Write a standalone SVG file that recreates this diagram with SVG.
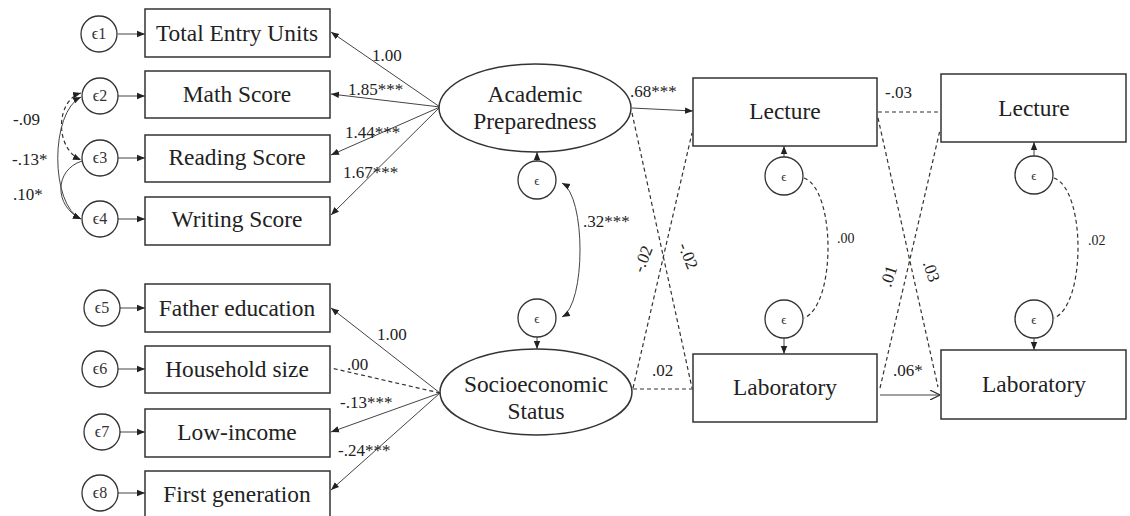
<svg xmlns="http://www.w3.org/2000/svg" width="1130" height="516" viewBox="0 0 1130 516">
<style>
.bg{fill:#fff}
.box{fill:#fff;stroke:#333;stroke-width:1.5}
.eps{fill:#fff;stroke:#333;stroke-width:1.3}
.ell{fill:#fff;stroke:#333;stroke-width:1.5}
.ln{fill:none;stroke:#444;stroke-width:1}
.dl{fill:none;stroke:#333;stroke-width:1.2;stroke-dasharray:4 3}
.t{font-family:"Liberation Serif","DejaVu Serif",serif;font-size:23.4px;fill:#222;text-anchor:middle}
.lb{font-family:"Liberation Serif","DejaVu Serif",serif;font-size:17px;fill:#222}
.sm{font-family:"Liberation Serif","DejaVu Serif",serif;font-size:14px;fill:#222}
.e{font-family:"Liberation Serif","DejaVu Serif",serif;font-size:16px;fill:#333;text-anchor:middle}
.e0{font-family:"Liberation Serif","DejaVu Serif",serif;font-size:13px;fill:#333;text-anchor:middle}
</style>
<defs>
<marker id="ah" viewBox="0 0 10 10" refX="10" refY="5" markerWidth="8" markerHeight="8" orient="auto-start-reverse" markerUnits="userSpaceOnUse"><path d="M0,1 L10,5 L0,9 z" fill="#222"/></marker>
<marker id="oa" viewBox="0 0 10 10" refX="10" refY="5" markerWidth="10" markerHeight="10" orient="auto" markerUnits="userSpaceOnUse"><path d="M0,0 L10,5 L0,10" fill="none" stroke="#333" stroke-width="1.2"/></marker>
</defs>
<rect class="bg" x="0" y="0" width="1130" height="516"/>

<g id="connectors">
<line class="ln" x1="118" y1="34" x2="145" y2="34" marker-end="url(#ah)"/>
<line class="ln" x1="118" y1="96" x2="145" y2="96" marker-end="url(#ah)"/>
<line class="ln" x1="118" y1="158" x2="145" y2="158" marker-end="url(#ah)"/>
<line class="ln" x1="118" y1="219" x2="145" y2="219" marker-end="url(#ah)"/>
<line class="ln" x1="120" y1="308" x2="145" y2="308" marker-end="url(#ah)"/>
<line class="ln" x1="118" y1="369" x2="145" y2="369" marker-end="url(#ah)"/>
<line class="ln" x1="120" y1="432" x2="145" y2="432" marker-end="url(#ah)"/>
<line class="ln" x1="118" y1="493" x2="145" y2="493" marker-end="url(#ah)"/>
<path class="dl" d="M81 93 C56 100 54 148 81 160" marker-start="url(#ah)" marker-end="url(#ah)"/>
<path class="ln" d="M81 97 C50 112 50 205 81 219" marker-start="url(#ah)" marker-end="url(#ah)"/>
<path class="ln" d="M82 161 C54 170 54 206 81 219" marker-end="url(#ah)"/>
<line class="ln" x1="440" y1="107" x2="331" y2="32" marker-end="url(#ah)"/>
<line class="ln" x1="440" y1="107" x2="331" y2="94" marker-end="url(#ah)"/>
<line class="ln" x1="440" y1="107" x2="331" y2="155" marker-end="url(#ah)"/>
<line class="ln" x1="440" y1="107" x2="331" y2="215" marker-end="url(#ah)"/>
<line class="ln" x1="440" y1="393" x2="331" y2="308" marker-end="url(#ah)"/>
<line class="dl" x1="440" y1="393" x2="331" y2="368"/>
<line class="ln" x1="440" y1="393" x2="331" y2="432" marker-end="url(#ah)"/>
<line class="ln" x1="440" y1="393" x2="331" y2="490" marker-end="url(#ah)"/>
<line class="ln" x1="537" y1="161" x2="537" y2="152" marker-end="url(#ah)"/>
<line class="ln" x1="537" y1="337" x2="537" y2="349" marker-end="url(#ah)"/>
<path class="ln" d="M562 183 C586 196 586 304 562 317" marker-start="url(#ah)" marker-end="url(#ah)"/>
<line class="ln" x1="632" y1="108" x2="693" y2="111" marker-end="url(#ah)"/>
<line class="dl" x1="632" y1="113" x2="692" y2="388"/>
<line class="dl" x1="633" y1="388" x2="692" y2="133"/>
<line class="dl" x1="633" y1="389" x2="693" y2="389"/>
<line class="ln" x1="784" y1="157" x2="784" y2="146" marker-end="url(#ah)"/>
<line class="ln" x1="784" y1="338" x2="784" y2="354" marker-end="url(#ah)"/>
<line class="ln" x1="1034" y1="156" x2="1034" y2="142" marker-end="url(#ah)"/>
<line class="ln" x1="1034" y1="338" x2="1034" y2="350" marker-end="url(#ah)"/>
<path class="dl" d="M804 178 C836 190 836 305 804 318"/>
<path class="dl" d="M1054 178 C1086 190 1086 305 1054 318"/>
<line class="dl" x1="878" y1="112" x2="941" y2="112"/>
<line class="dl" x1="878" y1="118" x2="938" y2="387"/>
<line class="dl" x1="880" y1="388" x2="940" y2="130"/>
<line class="ln" x1="880" y1="395" x2="940" y2="395" marker-end="url(#oa)" stroke-width="1.3"/>
</g>

<g id="labels">
<text class="lb" x="13" y="125">-.09</text>
<text class="lb" x="12" y="165">-.13*</text>
<text class="lb" x="13" y="200">.10*</text>
<text class="lb" x="372" y="61">1.00</text>
<text class="lb" x="348" y="95">1.85***</text>
<text class="lb" x="345" y="138">1.44***</text>
<text class="lb" x="343" y="178">1.67***</text>
<text class="lb" x="377" y="340">1.00</text>
<text class="lb" x="347" y="370">.00</text>
<text class="lb" x="340" y="408">-.13***</text>
<text class="lb" x="338" y="456">-.24***</text>
<text class="lb" x="583" y="227">.32***</text>
<text class="lb" x="630" y="97">.68***</text>
<text class="lb" x="652" y="376">.02</text>
<text class="lb" x="885" y="98">-.03</text>
<text class="lb" x="893" y="376">.06*</text>
<text class="sm" x="837" y="243">.00</text>
<text class="sm" x="1088" y="245">.02</text>
<text class="lb" text-anchor="middle" transform="translate(648 261) rotate(-68)">-.02</text>
<text class="lb" text-anchor="middle" transform="translate(683 258) rotate(68)">-.02</text>
<text class="lb" text-anchor="middle" transform="translate(894 278) rotate(-72)">.01</text>
<text class="lb" text-anchor="middle" transform="translate(926 273) rotate(72)">.03</text>
</g>

<g id="e1"><circle class="eps" cx="99" cy="34" r="18"/><text class="e" x="99" y="39">ϵ1</text></g>
<g id="e2"><circle class="eps" cx="100" cy="96" r="18"/><text class="e" x="100" y="101">ϵ2</text></g>
<g id="e3"><circle class="eps" cx="100" cy="158" r="18"/><text class="e" x="100" y="163">ϵ3</text></g>
<g id="e4"><circle class="eps" cx="100" cy="219" r="18"/><text class="e" x="100" y="224">ϵ4</text></g>
<g id="e5"><circle class="eps" cx="102" cy="308" r="18"/><text class="e" x="102" y="313">ϵ5</text></g>
<g id="e6"><circle class="eps" cx="100" cy="369" r="18"/><text class="e" x="100" y="374">ϵ6</text></g>
<g id="e7"><circle class="eps" cx="102" cy="432" r="18"/><text class="e" x="102" y="437">ϵ7</text></g>
<g id="e8"><circle class="eps" cx="100" cy="493" r="18"/><text class="e" x="100" y="498">ϵ8</text></g>

<g id="total-entry-units"><rect class="box" x="145" y="9" width="185" height="48"/><text class="t" x="237" y="41">Total Entry Units</text></g>
<g id="math-score"><rect class="box" x="145" y="71" width="185" height="47"/><text class="t" x="237" y="102">Math Score</text></g>
<g id="reading-score"><rect class="box" x="145" y="135" width="185" height="47"/><text class="t" x="237" y="165">Reading Score</text></g>
<g id="writing-score"><rect class="box" x="145" y="197" width="185" height="48"/><text class="t" x="237" y="227">Writing Score</text></g>
<g id="father-education"><rect class="box" x="145" y="284" width="185" height="48"/><text class="t" x="237" y="316">Father education</text></g>
<g id="household-size"><rect class="box" x="145" y="346" width="185" height="47"/><text class="t" x="237" y="377">Household size</text></g>
<g id="low-income"><rect class="box" x="145" y="409" width="185" height="48"/><text class="t" x="237" y="440">Low-income</text></g>
<g id="first-generation"><rect class="box" x="145" y="471" width="185" height="48"/><text class="t" x="237" y="502">First generation</text></g>

<g id="academic-preparedness"><ellipse class="ell" cx="535" cy="108" rx="96" ry="44"/><text class="t" x="535" y="102">Academic</text><text class="t" x="535" y="129">Preparedness</text></g>
<g id="academic-residual"><circle class="eps" cx="537" cy="180" r="19"/><text class="e0" x="537" y="185">ϵ</text></g>
<g id="ses"><ellipse class="ell" cx="536" cy="392" rx="96" ry="43"/><text class="t" x="536" y="392">Socioeconomic</text><text class="t" x="536" y="419">Status</text></g>
<g id="ses-residual"><circle class="eps" cx="537" cy="318" r="19"/><text class="e0" x="537" y="323">ϵ</text></g>

<g id="lecture-1"><rect class="box" x="693" y="78" width="184" height="68"/><text class="t" x="785" y="119">Lecture</text></g>
<g id="lecture-1-residual"><circle class="eps" cx="784" cy="176" r="19"/><text class="e0" x="784" y="181">ϵ</text></g>
<g id="laboratory-1"><rect class="box" x="693" y="354" width="184" height="68"/><text class="t" x="785" y="395">Laboratory</text></g>
<g id="laboratory-1-residual"><circle class="eps" cx="784" cy="319" r="19"/><text class="e0" x="784" y="324">ϵ</text></g>

<g id="lecture-2"><rect class="box" x="941" y="74" width="185" height="68"/><text class="t" x="1034" y="116">Lecture</text></g>
<g id="lecture-2-residual"><circle class="eps" cx="1034" cy="175" r="19"/><text class="e0" x="1034" y="180">ϵ</text></g>
<g id="laboratory-2"><rect class="box" x="941" y="350" width="185" height="69"/><text class="t" x="1034" y="392">Laboratory</text></g>
<g id="laboratory-2-residual"><circle class="eps" cx="1034" cy="319" r="19"/><text class="e0" x="1034" y="324">ϵ</text></g>
</svg>
